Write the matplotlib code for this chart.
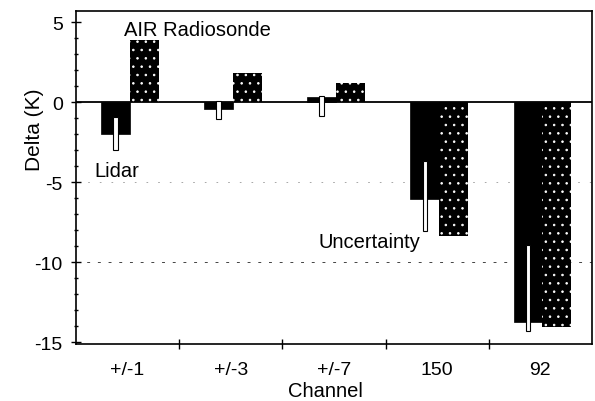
import numpy as np
import matplotlib.pyplot as plt

plt.rcParams['font.family'] = ['Liberation Sans', 'DejaVu Sans']
plt.rcParams['axes.unicode_minus'] = False
plt.rcParams['hatch.linewidth'] = 0.6

channels = ['+/-1', '+/-3', '+/-7', '150', '92']
lidar = np.array([-2.0, -0.42, 0.3, -6.05, -13.75])
radiosonde = np.array([3.9, 1.85, 1.17, -8.35, -14.05])
unc_lo = np.array([-3.0, -1.06, -0.88, -8.06, -14.3])
unc_hi = np.array([-0.95, 0.06, 0.38, -3.7, -8.9])

x = np.arange(len(channels))
w = 0.28

fig = plt.figure(figsize=(5.95, 4.02), dpi=100)
ax = fig.add_axes([0.1277, 0.1418, 0.8673, 0.8284])

# faint dashed guides at -5 and -10
ax.axhline(-10, color='#444444', lw=0.7, ls=(0, (3, 8)), zorder=0)
ax.axhline(-5, color='#999999', lw=0.6, ls=(0, (2, 12)), zorder=0)

ax.bar(x - 0.12, lidar, w, color='black', edgecolor='black', lw=0.5, zorder=2)
ax.bar(x + 0.16, radiosonde, w, color='black', edgecolor='white',
       hatch='..', lw=0, zorder=2)
ax.bar(x - 0.12, unc_hi - unc_lo, 0.045, bottom=unc_lo, color='white',
       edgecolor='black', lw=0.8, zorder=3)
ax.axhline(0, color='black', lw=1.3, zorder=1)

ax.text(-0.03, 4.56, 'AIR Radiosonde', fontsize=14.5, ha='left', va='center')
ax.text(-0.32, -4.25, 'Lidar', fontsize=14.5, ha='left', va='center')
ax.text(1.85, -8.69, 'Uncertainty', fontsize=14.5, ha='left', va='center')

ax.set_xlim(-0.5, 4.5)
ax.set_ylim(-15.12, 5.7)
ax.set_yticks([-15, -10, -5, 0, 5])
ax.set_yticks(np.arange(-15, 6, 1), minor=True)
ax.set_xticks(x[:-1] + 0.5)
ax.set_xticklabels([])
ax.set_xticks(x, minor=True)
ax.set_xticklabels(channels, minor=True)
ax.tick_params(axis='y', which='major', direction='inout', length=7, width=1,
               pad=6, labelsize=14)
ax.tick_params(axis='y', which='minor', direction='inout', length=3, width=1)
ax.tick_params(axis='x', which='major', direction='inout', length=7, width=1)
ax.tick_params(axis='x', which='minor', length=0, pad=12, labelsize=14)
for s in ax.spines.values():
    s.set_linewidth(1.2)

ax.set_xlabel('Channel', fontsize=14.5)
ax.xaxis.set_label_coords(0.4826, -0.11)
ax.set_ylabel('Delta (K)', fontsize=15)
ax.yaxis.set_label_coords(-0.062, 0.645)

fig.savefig('out.png', dpi=100)
